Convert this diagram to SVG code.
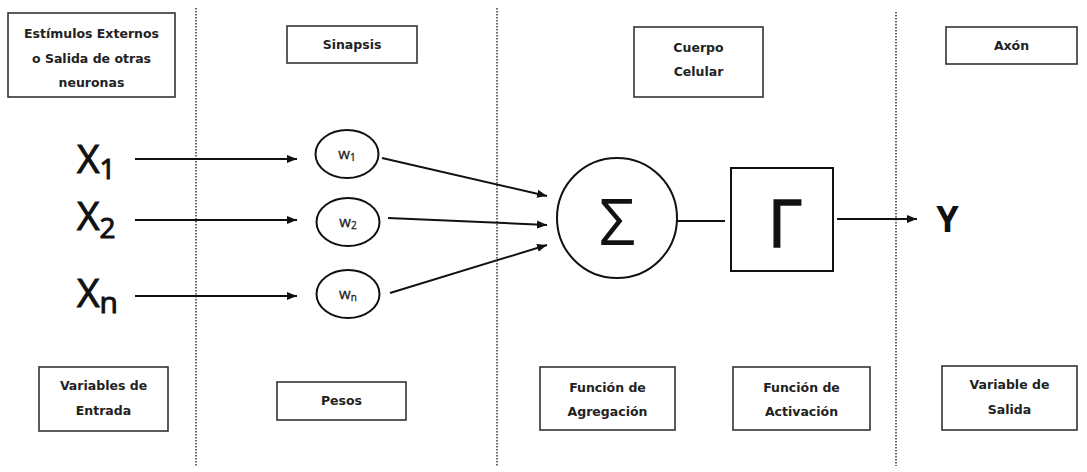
<svg xmlns="http://www.w3.org/2000/svg" width="1087" height="472" viewBox="0 0 1087 472">
<style>
.box{fill:#fff;stroke:#333;stroke-width:1.6}
.lbl{font-family:"DejaVu Sans",sans-serif;font-weight:bold;font-size:12.5px;fill:#222;text-anchor:middle}
.div{stroke:#444;stroke-width:1.6;stroke-dasharray:1.5 1.5;fill:none}
.wire{stroke:#111;stroke-width:2;fill:none}
.big{font-family:"Open Sans",sans-serif;fill:#111;stroke:#111;stroke-width:1}
.w{font-family:"Open Sans",sans-serif;font-size:15px;fill:#222;stroke:#222;stroke-width:0.3;text-anchor:middle}
.shape{fill:#fff;stroke:#111;stroke-width:2}
</style>
<defs>
<marker id="ah" viewBox="0 0 10 10" refX="10" refY="5" markerWidth="10" markerHeight="10" markerUnits="userSpaceOnUse" orient="auto">
<path d="M0,1 L10,5 L0,9 Z" fill="#111"/>
</marker>
</defs>
<rect width="1087" height="472" fill="#fff"/>
<g id="dividers">
<line class="div" x1="196" y1="8" x2="196" y2="466"/>
<line class="div" x1="497" y1="8" x2="497" y2="466"/>
<line class="div" x1="896" y1="12" x2="896" y2="466"/>
</g>
<g id="connectors">
<line class="wire" x1="135" y1="159" x2="297" y2="159" marker-end="url(#ah)"/>
<line class="wire" x1="135" y1="220" x2="297" y2="220" marker-end="url(#ah)"/>
<line class="wire" x1="135" y1="296" x2="297" y2="296" marker-end="url(#ah)"/>
<line class="wire" x1="382" y1="158" x2="547" y2="196" marker-end="url(#ah)"/>
<line class="wire" x1="388" y1="218" x2="547" y2="225" marker-end="url(#ah)"/>
<line class="wire" x1="390" y1="293" x2="547" y2="245" marker-end="url(#ah)"/>
<line class="wire" x1="677" y1="221" x2="725" y2="221"/>
<line class="wire" x1="837" y1="219" x2="917" y2="219" marker-end="url(#ah)"/>
</g>
<g id="estimulos"><rect class="box" x="8" y="13" width="167" height="84"/>
<text class="lbl" x="91.5" y="38">Estímulos Externos</text>
<text class="lbl" x="91.5" y="63">o Salida de otras</text>
<text class="lbl" x="91.5" y="87">neuronas</text></g>
<g id="sinapsis"><rect class="box" x="287" y="26" width="130" height="37"/>
<text class="lbl" x="352" y="49">Sinapsis</text></g>
<g id="cuerpo"><rect class="box" x="634" y="27" width="129" height="70"/>
<text class="lbl" x="698.5" y="52">Cuerpo</text>
<text class="lbl" x="698.5" y="76">Celular</text></g>
<g id="axon"><rect class="box" x="946" y="27" width="131" height="37"/>
<text class="lbl" x="1011.5" y="50">Axón</text></g>
<g id="x1"><text class="big" x="77" y="173" font-size="39">X<tspan font-size="28" dy="6">1</tspan></text></g>
<g id="x2"><text class="big" x="77" y="230" font-size="39">X<tspan font-size="28" dy="8">2</tspan></text></g>
<g id="xn"><text class="big" x="77" y="307" font-size="39">X<tspan font-size="30" dy="6">n</tspan></text></g>
<g id="w1"><ellipse class="shape" cx="347" cy="154" rx="31.5" ry="24"/>
<text class="w" x="347" y="159">w<tspan font-size="10" dy="2">1</tspan></text></g>
<g id="w2"><ellipse class="shape" cx="348" cy="222" rx="31.5" ry="24"/>
<text class="w" x="348" y="227">w<tspan font-size="10" dy="2">2</tspan></text></g>
<g id="wn"><ellipse class="shape" cx="348" cy="294" rx="31.5" ry="24"/>
<text class="w" x="348" y="299">w<tspan font-size="10" dy="2">n</tspan></text></g>
<g id="sigma"><circle class="shape" cx="617" cy="218" r="60"/>
<text x="617" y="245" font-family="Open Sans, sans-serif" font-size="64" fill="#111" text-anchor="middle">Σ</text></g>
<g id="gamma"><rect class="shape" x="731" y="168" width="102" height="103"/>
<text x="785" y="247" font-family="Open Sans, sans-serif" font-size="66" fill="#111" stroke="#111" stroke-width="1.5" text-anchor="middle">Γ</text></g>
<g id="y"><text x="947.5" y="232" font-family="Open Sans, sans-serif" font-size="36" font-weight="bold" fill="#111" text-anchor="middle">Y</text></g>
<g id="entrada"><rect class="box" x="39" y="367" width="129" height="64"/>
<text class="lbl" x="103.5" y="390">Variables de</text>
<text class="lbl" x="103.5" y="415">Entrada</text></g>
<g id="pesos"><rect class="box" x="277" y="382" width="129" height="38"/>
<text class="lbl" x="341.5" y="405">Pesos</text></g>
<g id="agregacion"><rect class="box" x="540" y="367" width="135" height="63"/>
<text class="lbl" x="607.5" y="392">Función de</text>
<text class="lbl" x="607.5" y="416">Agregación</text></g>
<g id="activacion"><rect class="box" x="733" y="367" width="137" height="63"/>
<text class="lbl" x="801.5" y="392">Función de</text>
<text class="lbl" x="801.5" y="416">Activación</text></g>
<g id="salida"><rect class="box" x="942" y="366" width="135" height="64"/>
<text class="lbl" x="1009.5" y="389">Variable de</text>
<text class="lbl" x="1009.5" y="414">Salida</text></g>
</svg>
